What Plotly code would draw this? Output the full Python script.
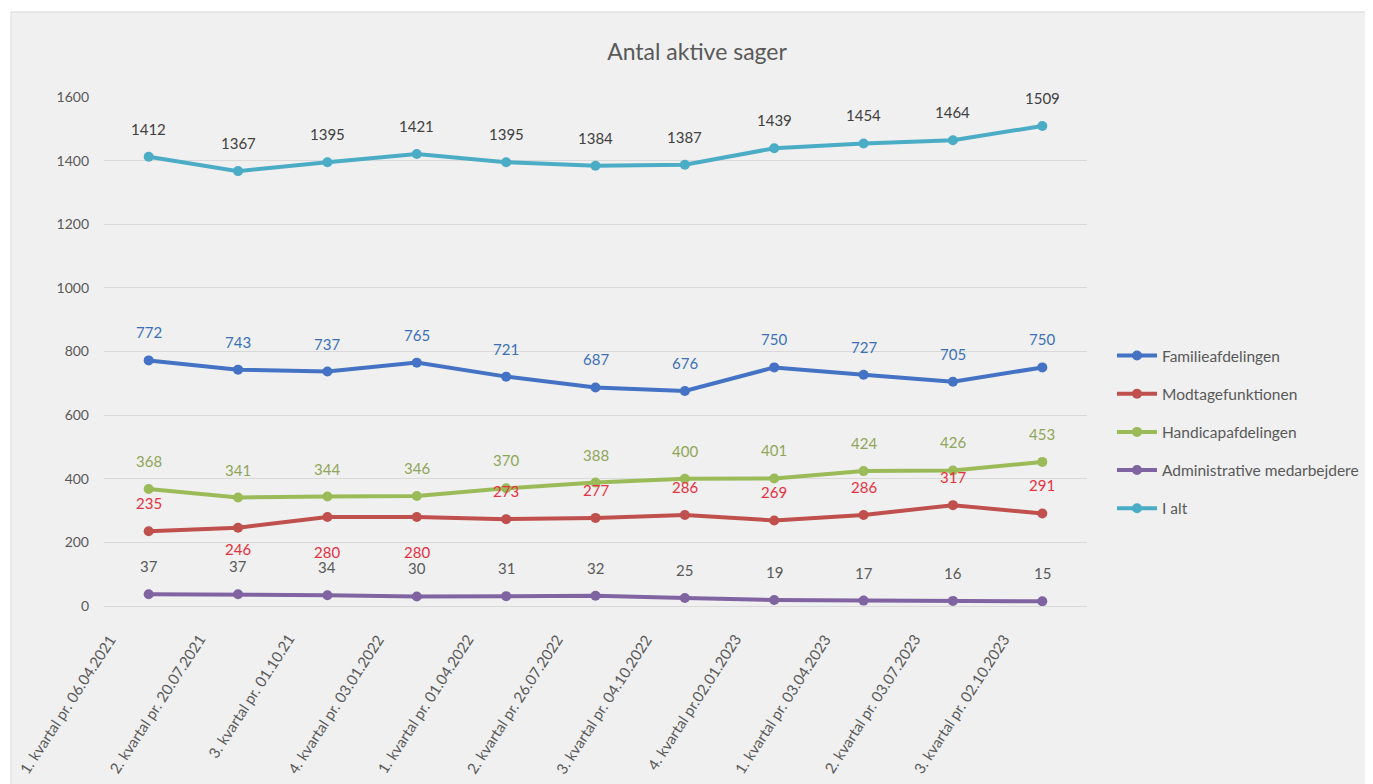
import plotly.graph_objects as go

categories = [
    "1. kvartal pr. 06.04.2021", "2. kvartal pr. 20.07.2021", "3. kvartal pr. 01.10.21",
    "4. kvartal pr. 03.01.2022", "1. kvartal pr. 01.04.2022", "2. kvartal pr. 26.07.2022",
    "3. kvartal pr. 04.10.2022", "4. kvartal pr.02.01.2023", "1. kvartal pr. 03.04.2023",
    "2. kvartal pr. 03.07.2023", "3. kvartal pr. 02.10.2023",
]
familie = [772, 743, 737, 765, 721, 687, 676, 750, 727, 705, 750]
modtage = [235, 246, 280, 280, 273, 277, 286, 269, 286, 317, 291]
handicap = [368, 341, 344, 346, 370, 388, 400, 401, 424, 426, 453]
admin = [37, 37, 34, 30, 31, 32, 25, 19, 17, 16, 15]
i_alt = [1412, 1367, 1395, 1421, 1395, 1384, 1387, 1439, 1454, 1464, 1509]
y_ticks = [0, 200, 400, 600, 800, 1000, 1200, 1400, 1600]

series = [
    ("Familieafdelingen", familie, "#4472c4", "#3b70b8"),
    ("Modtagefunktionen", modtage, "#c0504d", "#e8313f"),
    ("Handicapafdelingen", handicap, "#9bbb59", "#8fa658"),
    ("Administrative medarbejdere", admin, "#8064a2", "#595959"),
    ("I alt", i_alt, "#4bacc6", "#404040"),
]
# label offsets (pixels) for Modtagefunktionen labels placed below the point
modtage_shift = {1: -21, 2: -35, 3: -35}

FONT = "Lato, Open Sans, sans-serif"
fig = go.Figure()
annotations = []
for gi, (name, vals, col, lcol) in enumerate(series):
    fig.add_trace(go.Scatter(
        x=categories, y=vals, name=name, mode="lines+markers",
        line=dict(color=col, width=4), marker=dict(color=col, size=10),
        legendgroup=f"g{gi}",
    ))
    for i, v in enumerate(vals):
        ys = 28
        if name == "Modtagefunktionen" and i in modtage_shift:
            ys = modtage_shift[i]
        annotations.append(dict(
            x=categories[i], y=v, text=str(v), showarrow=False, yshift=ys,
            font=dict(family=FONT, size=15, color=lcol),
        ))

# rotated category labels, offset to the left of the tick like the reference
for c in categories:
    annotations.append(dict(
        x=c, y=0, yref="y", text=c, showarrow=False, textangle=-57,
        xanchor="right", yanchor="top", xshift=-27, yshift=-22,
        font=dict(family=FONT, size=15, color="#595959"),
    ))

OFF = 8  # page body margin
W, H = 1373 - OFF, 784 - OFF
L, T = 104 - OFF, 97 - OFF
R = W - (1087 - OFF)
B = H - (606 - OFF)
pw, ph = W - L - R, H - T - B
def px(xp):
    return (xp - OFF - L) / pw
def py(yp):
    return (H - B - (yp - OFF)) / ph

shapes = [
    dict(type="rect", xref="paper", yref="paper", x0=px(-5), x1=px(11), y0=py(800), y1=py(-5),
         fillcolor="white", line=dict(width=0), layer="below"),
    dict(type="rect", xref="paper", yref="paper", x0=px(-5), x1=px(1400), y0=py(12), y1=py(-5),
         fillcolor="white", line=dict(width=0), layer="below"),
    dict(type="line", xref="paper", yref="paper", x0=px(11), x1=px(1400), y0=py(12), y1=py(12),
         line=dict(color="#d9d9d9", width=1), layer="below"),
    dict(type="line", xref="paper", yref="paper", x0=px(11), x1=px(11), y0=py(12), y1=py(800),
         line=dict(color="#d9d9d9", width=1), layer="below"),
]

fig.update_layout(
    width=W, height=H,
    margin=dict(l=L, r=R, t=T, b=B, autoexpand=False),
    paper_bgcolor="#f0f0f0", plot_bgcolor="#f0f0f0",
    font=dict(family=FONT, color="#595959"),
    title=dict(text="Antal aktive sager", x=(697 - OFF) / W, xanchor="center",
               y=1 - (52 - OFF) / H, yanchor="middle",
               font=dict(family=FONT, size=23, color="#595959")),
    xaxis=dict(type="category", range=[-0.5, 10.5], showgrid=False, showticklabels=False,
               showline=True, linecolor="#d9d9d9", ticks=""),
    yaxis=dict(range=[0, 1600], tickvals=y_ticks, showgrid=True, gridcolor="#d9d9d9", gridwidth=1,
               zeroline=False, ticks="", tickfont=dict(size=14, color="#595959"), ticklabelstandoff=14),
    legend=dict(x=px(1112), y=py(339), xanchor="left", yanchor="top", bgcolor="rgba(0,0,0,0)",
                font=dict(family=FONT, size=15.5, color="#595959"), traceorder="grouped",
                tracegroupgap=15, itemwidth=40),
    annotations=annotations,
    shapes=shapes,
)
fig.write_html("out.html")
